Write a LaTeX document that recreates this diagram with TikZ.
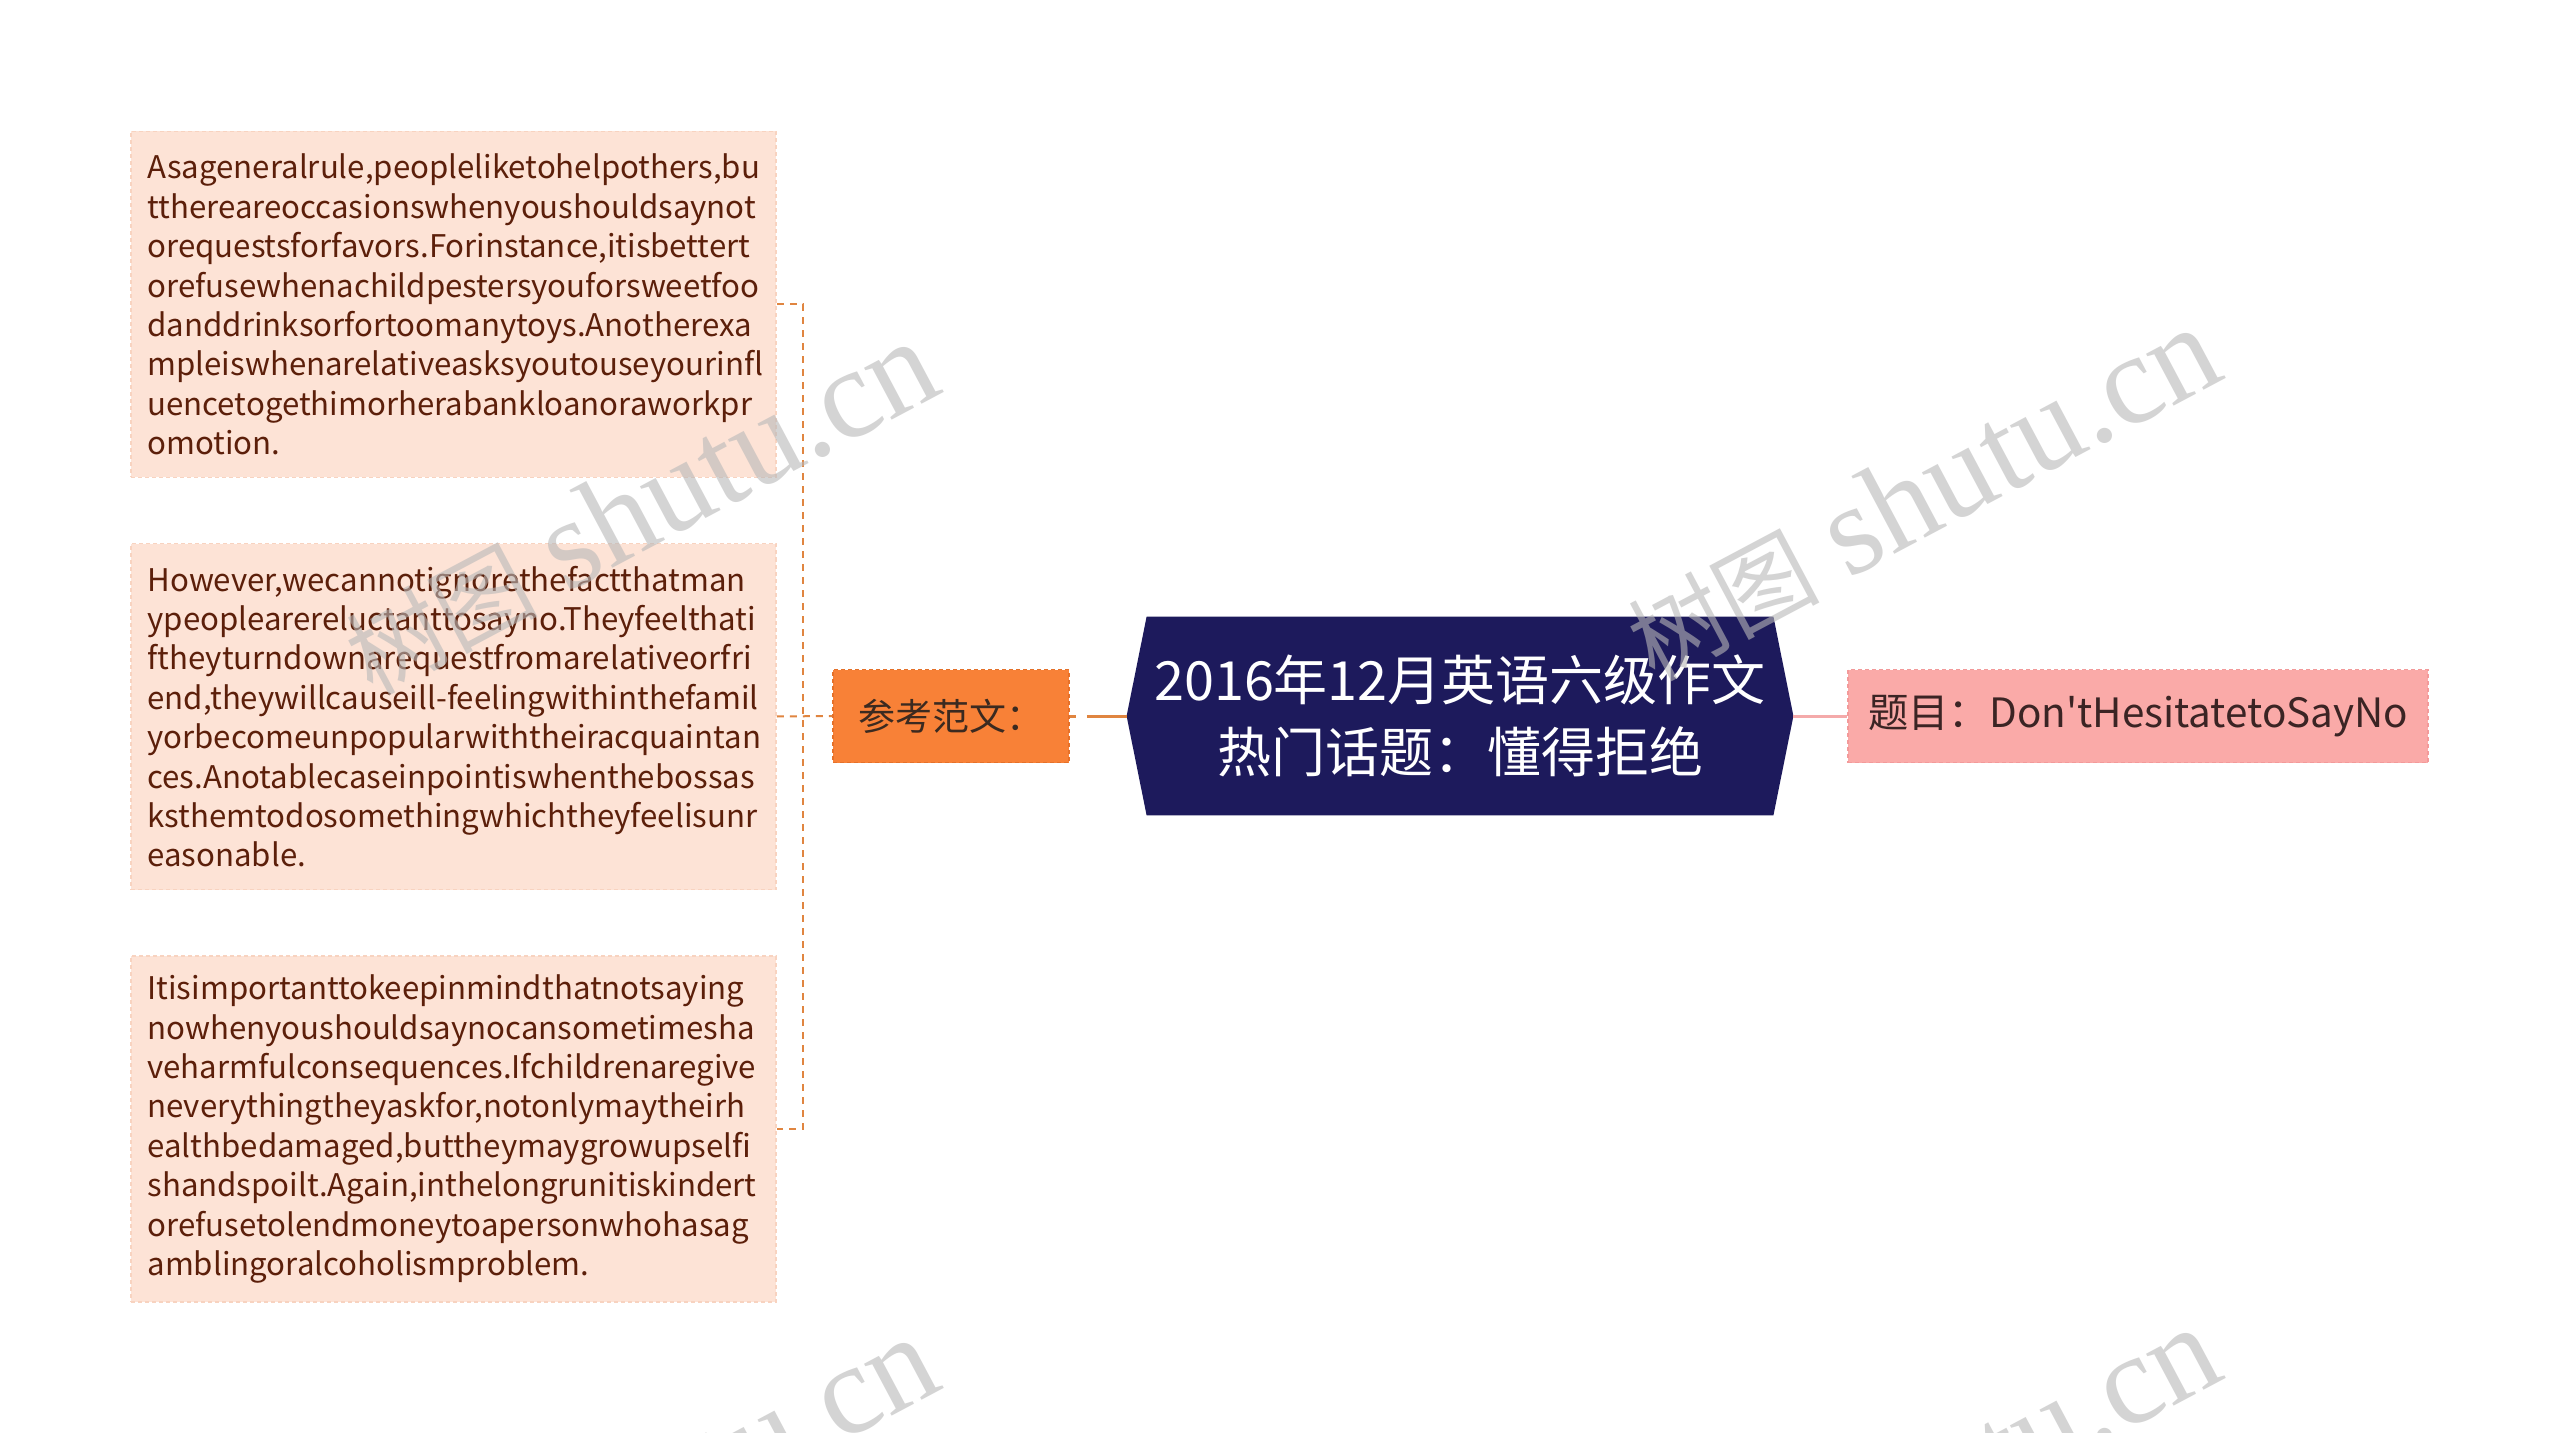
\documentclass[tikz,border=0pt]{standalone}
\usepackage{fontspec}
\setmainfont{Noto Sans CJK SC}
\newfontfamily\wmserif{Liberation Serif}
\usetikzlibrary{backgrounds}
\definecolor{navy}{HTML}{1D1A5C}
\definecolor{leaffill}{HTML}{FDE3D6}
\definecolor{leafdraw}{HTML}{F8D3C0}
\definecolor{leaftext}{HTML}{5C1F0A}
\definecolor{orfill}{HTML}{F88137}
\definecolor{ordraw}{HTML}{E5712A}
\definecolor{ortext}{HTML}{3B2A20}
\definecolor{pkfill}{HTML}{FAAAA8}
\definecolor{pkdraw}{HTML}{F39A9A}
\definecolor{pktext}{HTML}{3B2424}
\definecolor{brline}{HTML}{E08540}
\definecolor{pkline}{HTML}{F4AAAA}
\definecolor{wmgray}{HTML}{B8B8B8}
\newcommand{\wmtext}{{\fontsize{48}{50}\selectfont 树图}\hspace{14pt}{\wmserif\fontsize{64}{66}\selectfont shutu.cn}}
\begin{document}
\begin{tikzpicture}[x=0.5pt,y=-0.5pt,
  leafbox/.style={rectangle, fill=leaffill, draw=leafdraw, line width=0.8pt,
    dash pattern=on 2pt off 1.5pt, inner sep=0pt, minimum width=322.5pt,
    minimum height=173pt, text width=306pt, align=left, text=leaftext,
    font=\fontsize{15.6}{19.7}\selectfont},
  orbox/.style={rectangle, fill=orfill, draw=ordraw, line width=0.8pt,
    dash pattern=on 2pt off 1.5pt, inner sep=0pt, minimum width=118pt,
    minimum height=46.5pt, text=ortext, font=\fontsize{18.5}{22}\selectfont},
  pkbox/.style={rectangle, fill=pkfill, draw=pkdraw, line width=0.8pt,
    dash pattern=on 2pt off 1.5pt, inner sep=0pt, minimum width=290pt,
    minimum height=46.5pt, text=pktext, font=\fontsize{20.2}{22}\selectfont},
  centralbox/.style={rectangle, inner sep=0pt, minimum width=333pt,
    minimum height=99pt, text=white, align=center,
    font=\fontsize{27}{36}\selectfont},
  brconn/.style={draw=brline, line width=1pt, dash pattern=on 3.5pt off 3pt},
  wm/.style={text=wmgray, opacity=0.6, inner sep=0pt}
]
\begin{scope}[on background layer]
\fill[white] (0,0) rectangle (2560,1433);
\end{scope}
\useasboundingbox (0,0) rectangle (2560,1433);

\node[leafbox] (l1) at (453.5,304.5) {Asageneralrule,peopleliketohelpothers,bu\\
tthereareoccasionswhenyoushouldsaynot\\
orequestsforfavors.Forinstance,itisbettert\\
orefusewhenachildpestersyouforsweetfoo\\
danddrinksorfortoomanytoys.Anotherexa\\
mpleiswhenarelativeasksyoutouseyourinfl\\
uencetogethimorherabankloanoraworkpr\\
omotion.};

\node[leafbox] (l2) at (453.5,716.5) {However,wecannotignorethefactthatman\\
ypeoplearereluctanttosayno.Theyfeelthati\\
ftheyturndownarequestfromarelativeorfri\\
end,theywillcauseill-feelingwithinthefamil\\
yorbecomeunpopularwiththeiracquaintan\\
ces.Anotablecaseinpointiswhenthebossas\\
ksthemtodosomethingwhichtheyfeelisunr\\
easonable.};

\node[leafbox] (l3) at (453.5,1129) {Itisimportanttokeepinmindthatnotsaying\\
nowhenyoushouldsaynocansometimesha\\
veharmfulconsequences.Ifchildrenaregive\\
neverythingtheyaskfor,notonlymaytheirh\\
ealthbedamaged,buttheymaygrowupselfi\\
shandspoilt.Again,inthelongrunitiskindert\\
orefusetolendmoneytoapersonwhohasag\\
amblingoralcoholismproblem.};

\node[orbox] (o) at (951,716) {参考范文：};
\node[centralbox] (c) at (1460,716) {2016年12月英语六级作文\\热门话题：懂得拒绝};
\node[pkbox] (p) at (2138,716) {题目：Don\textquotesingle tHesitatetoSayNo};

\begin{scope}[on background layer]
\fill[navy] (c.west) -- ([xshift=10pt]c.north west) -- ([xshift=-10pt]c.north east)
  -- (c.east) -- ([xshift=-10pt]c.south east) -- ([xshift=10pt]c.south west) -- cycle;
\end{scope}

\coordinate (b) at (803,716);
\draw[brconn] (l1.east) -| (b) |- (l3.east);
\draw[brconn] (l2.east) -- (o.west);
\draw[draw=brline, line width=1.5pt, dash pattern=on 3pt off 5.5pt on 40pt] (o.east) -- (c.west);
\draw[draw=pkline, line width=1.5pt] (c.east) -- (p.west);

\node[wm, rotate=28] (w1) at (640,508) {\wmtext};
\node[wm, rotate=28] (w2) at (1922,494) {\wmtext};
\node[wm, rotate=28] (w3) at (640,1504) {\wmtext};
\node[wm, rotate=28] (w4) at (1922,1494) {\wmtext};
\end{tikzpicture}
\end{document}
